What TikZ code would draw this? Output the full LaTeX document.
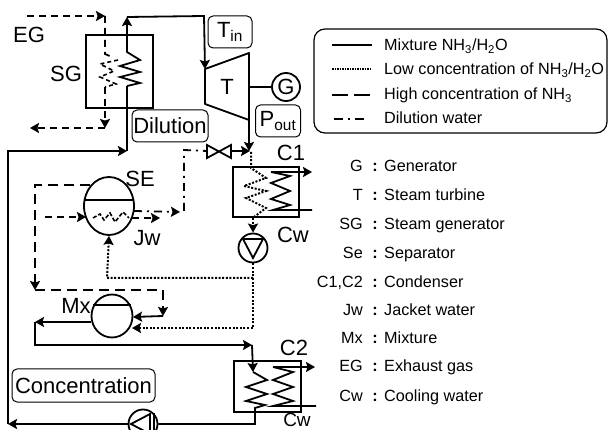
\documentclass[tikz,border=0pt]{standalone}
\usepackage{fontspec}
\setmainfont{Liberation Sans}
\usetikzlibrary{arrows.meta,shapes.geometric}
\newcommand{\bigfont}{\fontsize{22}{24}\selectfont}
\newcommand{\keyfont}{\fontsize{16.2}{18}\selectfont}
\tikzset{
  pipe/.style={line width=1.8pt,line join=miter},
  flow/.style={-{Stealth[length=9pt,width=10pt,inset=1.5pt]}},
  lowconc/.style={line width=2pt,dash pattern=on 2pt off 1.6pt},
  highconc/.style={line width=1.8pt,dash pattern=on 10pt off 6pt},
  dilwater/.style={line width=1.8pt,dash pattern=on 8pt off 5pt on 2pt off 5pt},
  gas/.style={line width=1.8pt,dash pattern=on 7pt off 5pt},
  unitbox/.style={draw,line width=1.8pt,inner sep=0pt},
  tagbox/.style={draw,line width=1pt,rounded corners=5pt,inner sep=0pt,font=\bigfont},
  vessel/.style={draw,ellipse,line width=1.8pt,inner sep=0pt},
  pumpcircle/.style={draw,circle,line width=1.8pt,inner sep=0pt,minimum size=29pt},
  plainlabel/.style={inner sep=0pt,font=\bigfont},
  keyname/.style={inner sep=0pt,anchor=base east,font=\keyfont},
  keycolon/.style={inner sep=0pt,anchor=base,font=\keyfont\bfseries},
  keytext/.style={inner sep=0pt,anchor=base west,font=\keyfont},
}
\begin{document}
\begin{tikzpicture}[x=1pt,y=-1pt]
\path[use as bounding box,fill=white] (0,0) rectangle (608,430);

% units
\node[unitbox,minimum width=67pt,minimum height=73pt] (sg) at (119.5,71.5) {};
\node[unitbox,minimum width=66pt,minimum height=50pt] (cone) at (266,192) {};
\node[unitbox,minimum width=67pt,minimum height=51pt] (ctwo) at (267.5,386.5) {};
\node[vessel,minimum width=50pt,minimum height=58pt] (se) at (109,206) {};
\node[vessel,minimum width=41pt,minimum height=43pt] (mx) at (112,316) {};
\node[pumpcircle] (pumpa) at (253,248) {};
\node[pumpcircle] (pumpb) at (143,424) {};
\node[draw,circle,line width=1.8pt,inner sep=0pt,minimum size=28pt,font=\bigfont] (gen) at (286,87) {G};
\node[inner sep=0pt,minimum width=44pt,minimum height=51pt,font=\bigfont] (turb) at (227,87) {T};
\draw[pipe] (se.166) -- (se.14);
\draw[pipe] (mx.149) -- (mx.31);
\draw[pipe,line join=round] (205,69) coordinate (turbin) -- (249,53) -- (249,120) coordinate (turbout) -- (205,104) -- cycle;
\draw[pipe] (243,239) -- (263,239) -- (253,258) -- cycle;
\draw[pipe] (131,424) -- (150,414) -- (150,434) -- cycle;
\draw[pipe] (154,413) -- (154,435);
\draw[pipe] (207,145) coordinate (vala) -- (231,158) -- (231,145) -- (207,158) -- cycle;
\coordinate (valvel) at (207,151);
\coordinate (valver) at (231,151);
\draw[pipe] (249,87) -- (gen);

% labels
\node[tagbox,minimum width=44pt,minimum height=32pt] (tin) at (230,32) {T\textsubscript{in}};
\node[tagbox,minimum width=45pt,minimum height=32pt] (pout) at (278,121) {P\textsubscript{out}};
\node[tagbox,minimum width=76pt,minimum height=32pt] (dil) at (170,126) {Dilution};
\node[tagbox,minimum width=143pt,minimum height=33pt] (conc) at (83.5,385.5) {Concentration};
\node[plainlabel] (eg) at (29,35) {EG};
\node[plainlabel] (sglab) at (66,74) {SG};
\node[plainlabel] (selab) at (140,179) {SE};
\node[plainlabel] (jw) at (147,238) {Jw};
\node[plainlabel] (mxlab) at (76,306) {Mx};
\node[plainlabel] (conelab) at (291,153) {C1};
\node[plainlabel] (cwa) at (293,235) {Cw};
\node[plainlabel] (ctwolab) at (294,348) {C2};
\node[inner sep=0pt,font=\fontsize{19}{21}\selectfont] (cwb) at (297,420) {Cw};

% exhaust gas
\coordinate (egin) at (27,16);
\coordinate (egtop) at (105,16);
\coordinate (egbot) at (105,128);
\coordinate (egout) at (30,128);
\draw[gas,flow] (egin) -- (egtop);
\draw[gas] (egtop) -- (105,54) -- (112,57);
\draw[gas,line width=1.6pt,dash pattern=on 4pt off 3pt] (118,60) -- (100,64) -- (114,71) -- (100,77) -- (116,84) -- (105,87);
\draw[gas,flow] (105,87) -- (egbot);
\draw[gas,flow] (egbot) -- (egout);

% mixture loop
\coordinate (sgout) at (127,17);
\coordinate (topbend) at (204,16);
\coordinate (leftbend) at (8,151);
\coordinate (leftlow) at (8,424);
\coordinate (sgin) at (127,151);
\draw[pipe,flow] (127,86) -- (140,83) -- (120,77) -- (140,72) -- (120,66) -- (140,60) -- (127,52) -- (sgout);
\draw[pipe] (127,86) -- (sgin);
\draw[pipe,flow] (sgout) -- (topbend) -- (turbin);
\draw[pipe,flow] (turbout) -- (249,151) coordinate (coneup);
\draw[pipe,flow] (leftlow) -- (leftbend) -- (sgin);
\draw[pipe,flow] (pumpb.west) -- (leftlow);

% separator circuit
\coordinate (hca) at (90,185);
\coordinate (hcb) at (35,185);
\coordinate (hcc) at (35,290);
\coordinate (hcd) at (163,290);
\coordinate (hce) at (163,316);
\coordinate (mxina) at (133,317);
\draw[highconc,flow] (hca) -- (hcb) -- (hcc);
\draw[highconc,flow] (hcc) -- (hcd) -- (hce);
\draw[pipe,flow] (hce) -- (mxina);
\draw[gas,flow] (45,217) -- (86,217) coordinate (jwin);
\draw[gas,line width=1.6pt,dash pattern=on 4pt off 2pt] (93,218) -- (100,214) -- (104,220) -- (110,213) -- (115,222) -- (123,212) -- (129,218);
\draw[gas,flow] (132,218) -- (160,218) coordinate (jwout);

% dilution water
\coordinate (dila) at (134,211);
\coordinate (dilb) at (184,211);
\coordinate (dilc) at (184,150);
\draw[dilwater,flow] (dila) -- (180,212);
\draw[dilwater] (dilb) -- (dilc) -- (valvel);
\draw[pipe,flow] (valver) -- (250,151);

% condenser C1
\draw[lowconc] (251,152) -- (251,168) -- (266,178) -- (244,186) -- (266,191) -- (246,198) -- (266,208) -- (254,217);
\coordinate (conea) at (312,172);
\coordinate (coneb) at (312,210);
\draw[pipe,flow] (271,172) -- (conea);
\draw[pipe] (271,172) -- (290,176) -- (271,183) -- (290,191) -- (271,199) -- (290,205) -- (273,210) -- (coneb);
\draw[lowconc,flow] (253,218) -- (pumpa.north);

% low concentration return
\coordinate (lowsplit) at (253,278);
\coordinate (lowleft) at (107,278);
\coordinate (lowcorner) at (253,328);
\coordinate (mxinb) at (132,328);
\draw[lowconc] (pumpa.south) -- (lowsplit);
\draw[lowconc,flow] (lowsplit) -- (lowleft) -- (se.south);
\draw[lowconc,flow] (lowsplit) -- (lowcorner) -- (mxinb);

% mixer to C2 and back
\coordinate (mxouta) at (35,322);
\coordinate (mxoutb) at (35,345);
\coordinate (ctwoa) at (252,345);
\coordinate (ctwob) at (253,372);
\draw[pipe,flow] (mx.west |- 0,322) -- (mxouta);
\draw[pipe,flow] (mxouta) -- (mxoutb) -- (ctwoa);
\draw[pipe,flow] (ctwoa) -- (ctwob);
\draw[pipe] (ctwob) -- (267,380) -- (246,387) -- (267,394) -- (246,401) -- (265,405) -- (255,408) -- (255,424) -- (pumpb.east);
\coordinate (ctwoc) at (315,367);
\coordinate (ctwod) at (316,406);
\draw[pipe,flow] (273,367) -- (ctwoc);
\draw[pipe] (273,367) -- (293,372) -- (273,380) -- (293,387) -- (273,394) -- (293,401) -- (273,406) -- (ctwod);

% legend
\node[draw,line width=1.2pt,rounded corners=11pt,inner sep=0pt,minimum width=293pt,minimum height=104pt] (legend) at (460.5,81) {};
\coordinate (lega) at (332,45);
\coordinate (legb) at (372,45);
\coordinate (legc) at (332,69);
\coordinate (legd) at (372,69);
\coordinate (lege) at (332,95);
\coordinate (legf) at (372,95);
\coordinate (legg) at (334,119);
\coordinate (legh) at (366,119);
\draw[pipe] (lega) -- (legb);
\draw[line width=1.5pt,dash pattern=on 1.5pt off 1pt] (legc) -- (legd);
\draw[line width=1.5pt,dash pattern=on 16pt off 6pt] (lege) -- (legf);
\draw[line width=1.5pt,dash pattern=on 9pt off 5pt on 2pt off 5pt] (legg) -- (legh);
\node[keytext] (lmix) at (384,51) {Mixture NH\textsubscript{3}/H\textsubscript{2}O};
\node[keytext] (llow) at (384,75) {Low concentration of NH\textsubscript{3}/H\textsubscript{2}O};
\node[keytext] (lhigh) at (384,100) {High concentration of NH\textsubscript{3}};
\node[keytext] (ldil) at (384,124) {Dilution water};

% key
\foreach \keyn/\keyt/\keyy [count=\i] in {G/Generator/172,T/Steam turbine/201,SG/Steam generator/230,Se/Separator/259,{C1,C2}/Condenser/288,Jw/Jacket water/316,Mx/Mixture/344,EG/Exhaust gas/372,Cw/Cooling water/401}
{
  \node[keyname] (kn\i) at (363,\keyy) {\keyn};
  \node[keycolon] (kc\i) at (375,\keyy) {:};
  \node[keytext] (kt\i) at (384,\keyy) {\keyt};
}
\end{tikzpicture}
\end{document}
